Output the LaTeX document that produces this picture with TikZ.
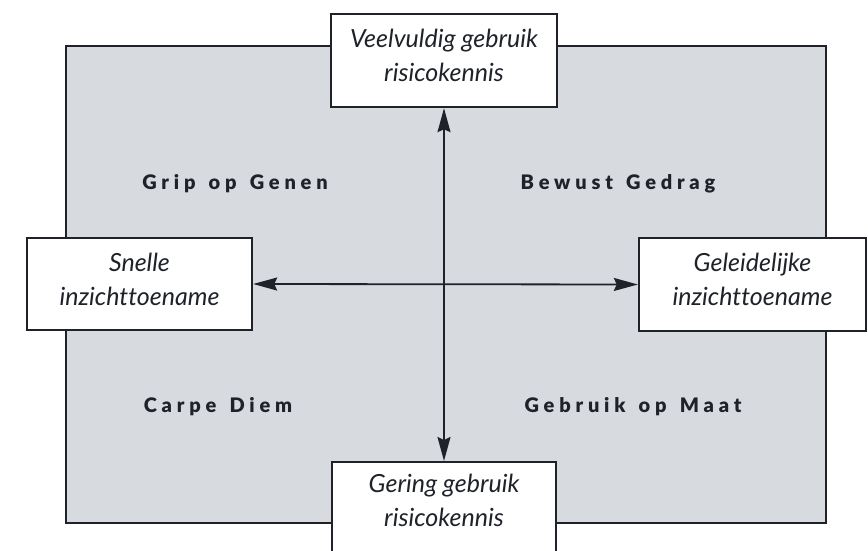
\documentclass[tikz,border=0pt]{standalone}
\usepackage{fontspec}
\setmainfont[Ligatures=NoCommon]{Lato}
\newfontfamily\labelfont[LetterSpace=24,WordSpace=1.4]{Lato Black}
\usetikzlibrary{arrows.meta}
\definecolor{panel}{HTML}{D7DBDF}
\definecolor{ink}{HTML}{1F2329}
\tikzset{
  box/.style={draw=ink, line width=2.4pt, fill=white, inner sep=0pt},
  boxtext/.style={align=center, font=\fontsize{25}{34}\selectfont\itshape, text=ink},
  quad/.style={font=\labelfont\fontsize{20}{24}\selectfont, text=ink},
  axis/.style={draw=ink, line width=1.8pt, {Stealth[length=24pt,width=13pt,inset=3pt]}-{Stealth[length=24pt,width=13pt,inset=3pt]}},
}
\begin{document}
\begin{tikzpicture}[x=1pt, y=-1pt]
  \useasboundingbox (0,0) rectangle (868,551);
  \clip (0,0) rectangle (868,551);
  % grey field
  \draw[draw=ink, line width=2.4pt, fill=panel] (66,46) rectangle (826,523);
  % quadrant names
  \node[quad] (q1) at (235,184) {Grip op Genen};
  \node[quad] (q2) at (618,184) {Bewust Gedrag};
  \node[quad] (q3) at (218,407) {Carpe Diem};
  \node[quad] (q4) at (633,407) {Gebruik op Maat};
  % end boxes
  \node[box, minimum width=226pt, minimum height=93pt] (top) at (444,60.5) {};
  \node[boxtext] at (444,55) {Veelvuldig gebruik\\risicokennis};
  \node[box, minimum width=225pt, minimum height=92pt] (left) at (139.5,284) {};
  \node[boxtext] at (139.5,279) {Snelle\\inzichttoename};
  \node[box, minimum width=227pt, minimum height=93pt] (right) at (752.5,284.5) {};
  \node[boxtext] at (752.5,279) {Geleidelijke\\inzichttoename};
  \node[box, minimum width=224pt, minimum height=120pt, anchor=north] (bottom) at (444,461) {};
  \node[boxtext] at (444,500) {Gering gebruik\\risicokennis};
  % axes
  \draw[axis] (top.south) -- (bottom.north);
  \draw[axis] (left.east) -- (right.west);
\end{tikzpicture}
\end{document}
